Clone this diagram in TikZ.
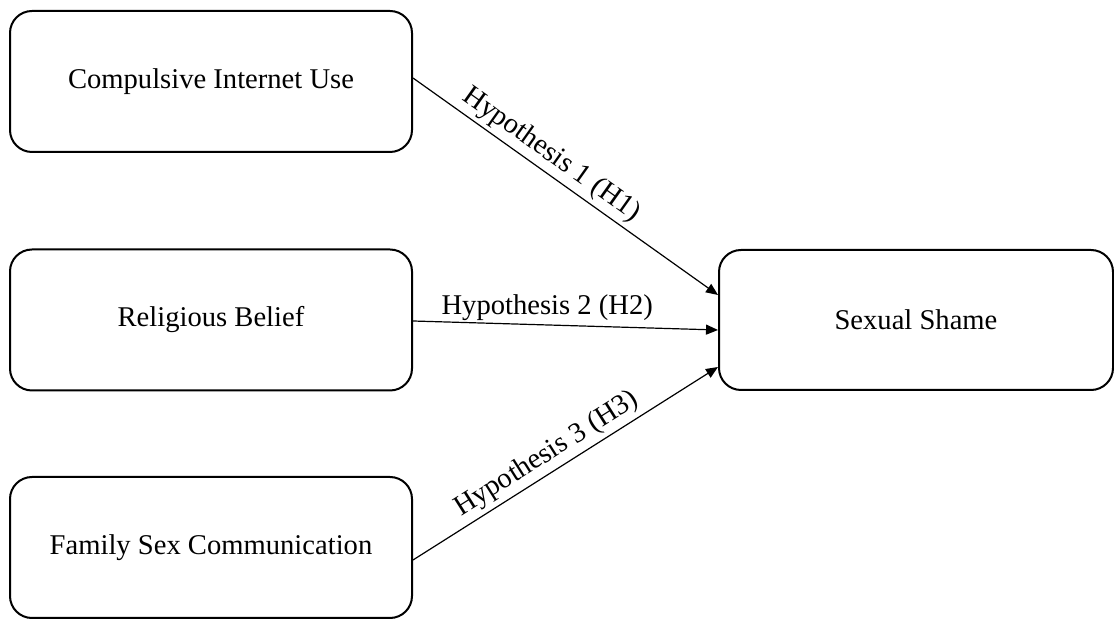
\documentclass[tikz,border=0pt]{standalone}
\usepackage{fontspec}
\setmainfont{Liberation Serif}
\usepackage{tikz}
\usetikzlibrary{positioning,calc,arrows.meta}
\tikzset{
  basic/.style = {draw, rectangle, rounded corners=11pt, line width=1pt,
                  align=center, font=\fontsize{14.3}{17}\selectfont},
  factor/.style = {basic, minimum width=201pt, minimum height=70.5pt},
  outcome/.style = {basic, minimum width=197pt, minimum height=70pt},
  edge/.style = {-{Triangle[length=6pt,width=5pt]}, line width=0.6pt},
  hyp/.style = {font=\fontsize{14.3}{17}\selectfont, inner sep=2pt}
}

\begin{document}
\begin{tikzpicture}[x=0.5pt,y=-0.5pt]
      \useasboundingbox (0,0) rectangle (1114,619);
      \node[factor] (cint) at (211,81.5) {Compulsive Internet Use};
      \node[factor] (relig) at (211,320) {Religious Belief};
      \node[factor] (fsc) at (211,547.5) {Family Sex Communication};
      \node[outcome] (shame) at (916,320) {Sexual Shame};
      \draw[edge] ([yshift=1.75pt]cint.east) -- node[hyp, above, sloped, pos=0.42] (h1) {Hypothesis 1 (H1)} ([yshift=12.5pt]shame.west);
      \draw[edge] ([yshift=-0.5pt]relig.east) -- node[hyp, above, pos=0.44] (h2) {Hypothesis 2 (H2)} ([yshift=-5pt]shame.west);
      \draw[edge] ([yshift=-6.25pt]fsc.east) -- node[hyp, above, sloped, pos=0.47] (h3) {Hypothesis 3 (H3)} ([yshift=-23.5pt]shame.west);
    \end{tikzpicture}
\end{document}
